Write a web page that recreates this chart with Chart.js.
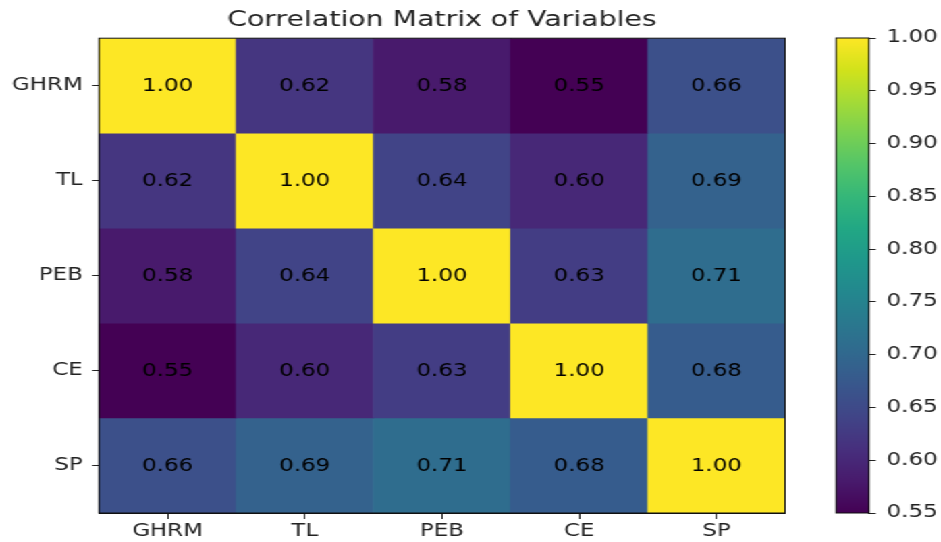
<!DOCTYPE html>
<html>
<head>
<meta charset="utf-8">
<script src="https://cdn.jsdelivr.net/npm/chart.js@4.4.1/dist/chart.umd.min.js"></script>
<style>
  html, body { margin: 0; padding: 0; background: #fff; overflow: hidden; }
  /* the reference is stretched sideways, so draw narrow and scale in x */
  #wrap { position: absolute; left: 0; top: 0; width: 697px; height: 542px;
          transform: scaleX(1.35); transform-origin: 0 0; }
  #heat { position: absolute; left: 0; top: 0; width: 600px; height: 542px; }
  #bar { position: absolute; left: 600px; top: 0; width: 97px; height: 542px; }
</style>
</head>
<body>
<div id="wrap">
  <div id="heat"><canvas id="chart"></canvas></div>
  <div id="bar"><canvas id="chart2"></canvas></div>
</div>
<script>
// variables (rows and columns of the matrix)
var labels = ['GHRM', 'TL', 'PEB', 'CE', 'SP'];

// correlation values, one row per variable
var rowGHRM = [1.00, 0.62, 0.58, 0.55, 0.66];
var rowTL   = [0.62, 1.00, 0.64, 0.60, 0.69];
var rowPEB  = [0.58, 0.64, 1.00, 0.63, 0.71];
var rowCE   = [0.55, 0.60, 0.63, 1.00, 0.68];
var rowSP   = [0.66, 0.69, 0.71, 0.68, 1.00];
var rows = [rowGHRM, rowTL, rowPEB, rowCE, rowSP];

// colour bar range and ticks
var cbMin = 0.55, cbMax = 1.00;
var cbTicks = [0.55, 0.60, 0.65, 0.70, 0.75, 0.80, 0.85, 0.90, 0.95, 1.00];

// viridis, 16 evenly spaced stops
var viridis = ['#440154', '#481a6c', '#472f7d', '#414487', '#39568c', '#31688e',
               '#2a788e', '#23888e', '#1f988b', '#22a884', '#35b779', '#54c568',
               '#7ad151', '#a5db36', '#d2e21b', '#fde725'];

function hexToRgb(h) {
    return [parseInt(h.substr(1, 2), 16), parseInt(h.substr(3, 2), 16), parseInt(h.substr(5, 2), 16)];
}
function colorFor(v) {
    var t = (v - cbMin) / (cbMax - cbMin);
    t = Math.max(0, Math.min(1, t)) * (viridis.length - 1);
    var i = Math.min(Math.floor(t), viridis.length - 2);
    var f = t - i;
    var a = hexToRgb(viridis[i]), b = hexToRgb(viridis[i + 1]);
    var c = a.map(function (x, k) { return Math.round(x + (b[k] - x) * f); });
    return 'rgb(' + c.join(',') + ')';
}

Chart.defaults.font.family = 'DejaVu Sans';
Chart.defaults.color = '#222';

// frame around the plot area, like matplotlib's spines
var frame = {
    id: 'frame',
    afterDraw: function (chart) {
        var a = chart.chartArea, ctx = chart.ctx;
        ctx.save();
        ctx.strokeStyle = '#111';
        ctx.lineWidth = 1;
        ctx.strokeRect(a.left, a.top, a.right - a.left, a.bottom - a.top);
        ctx.restore();
    }
};

// value written in the middle of each cell
var annotate = {
    id: 'annotate',
    afterDatasetsDraw: function (chart) {
        var ctx = chart.ctx;
        ctx.save();
        ctx.font = '17px "DejaVu Sans"';
        ctx.fillStyle = '#000';
        ctx.textAlign = 'center';
        ctx.textBaseline = 'middle';
        chart.data.datasets.forEach(function (ds, r) {
            chart.getDatasetMeta(r).data.forEach(function (el, c) {
                var p = el.getProps(['x', 'y', 'base'], true);
                ctx.fillText(rows[r][c].toFixed(2), p.x, (p.y + p.base) / 2 + 1);
            });
        });
        ctx.restore();
    }
};

var datasets = rows.map(function (vals, r) {
    return {
        label: labels[r],
        data: vals.map(function () { return [r, r + 1]; }),
        backgroundColor: vals.map(colorFor),
        borderWidth: 0,
        grouped: false,
        barPercentage: 1,
        categoryPercentage: 1
    };
});

var ctx = document.getElementById('chart').getContext('2d');
var chart = new Chart(ctx, {
    type: 'bar',
    data: { labels: labels, datasets: datasets },
    options: {
        responsive: true,
        maintainAspectRatio: false,
        animation: false,
        layout: { padding: { left: 0, right: 18.5, top: 0, bottom: 0 } },
        plugins: {
            legend: { display: false },
            tooltip: { enabled: false },
            title: {
                display: true,
                fullSize: false,
                text: 'Correlation Matrix of Variables',
                font: { size: 21, weight: 'normal' },
                color: '#222',
                padding: { top: 8, bottom: 5 }
            }
        },
        scales: {
            x: {
                type: 'category',
                offset: true,
                grid: { offset: false, drawOnChartArea: false, tickLength: 6, color: '#222' },
                border: { display: true, color: '#111' },
                ticks: { font: { size: 17 }, color: '#222', padding: 2, maxRotation: 0 },
                afterFit: function (s) { s.height = 29; }
            },
            y: {
                type: 'linear',
                min: 0,
                max: 5,
                reverse: true,
                afterBuildTicks: function (s) {
                    s.ticks = labels.map(function (_, i) { return { value: i + 0.5 }; });
                },
                ticks: {
                    font: { size: 17 },
                    color: '#222',
                    padding: 7,
                    callback: function (v, i) { return labels[i]; }
                },
                grid: { drawOnChartArea: false, tickLength: 5, color: '#222' },
                border: { display: true, color: '#111' },
                afterFit: function (s) { s.width = 73.3; }
            }
        }
    },
    plugins: [annotate, frame]
});

// colour bar
var ctx2 = document.getElementById('chart2').getContext('2d');
var chart2 = new Chart(ctx2, {
    type: 'bar',
    data: {
        labels: [''],
        datasets: [{
            data: [[cbMin, cbMax]],
            backgroundColor: function (c) {
                var a = c.chart.chartArea;
                if (!a) return viridis[0];
                var g = c.chart.ctx.createLinearGradient(0, a.bottom, 0, a.top);
                viridis.forEach(function (col, i) { g.addColorStop(i / (viridis.length - 1), col); });
                return g;
            },
            borderWidth: 0,
            barPercentage: 1,
            categoryPercentage: 1
        }]
    },
    options: {
        responsive: true,
        maintainAspectRatio: false,
        animation: false,
        layout: { padding: { left: 19.3, right: 0, top: 38, bottom: 29 } },
        plugins: { legend: { display: false }, tooltip: { enabled: false }, title: { display: false } },
        scales: {
            x: { display: false },
            y: {
                position: 'right',
                min: cbMin,
                max: cbMax,
                afterBuildTicks: function (s) {
                    s.ticks = cbTicks.map(function (v) { return { value: v }; });
                },
                ticks: {
                    font: { size: 17 },
                    color: '#222',
                    padding: 8,
                    callback: function (v) { return v.toFixed(2); }
                },
                grid: { drawOnChartArea: false, tickLength: 5, color: '#222' },
                border: { display: true, color: '#111' },
                afterFit: function (s) { s.width = 53.3; }
            }
        }
    },
    plugins: [frame]
});
</script>
</body>
</html>
